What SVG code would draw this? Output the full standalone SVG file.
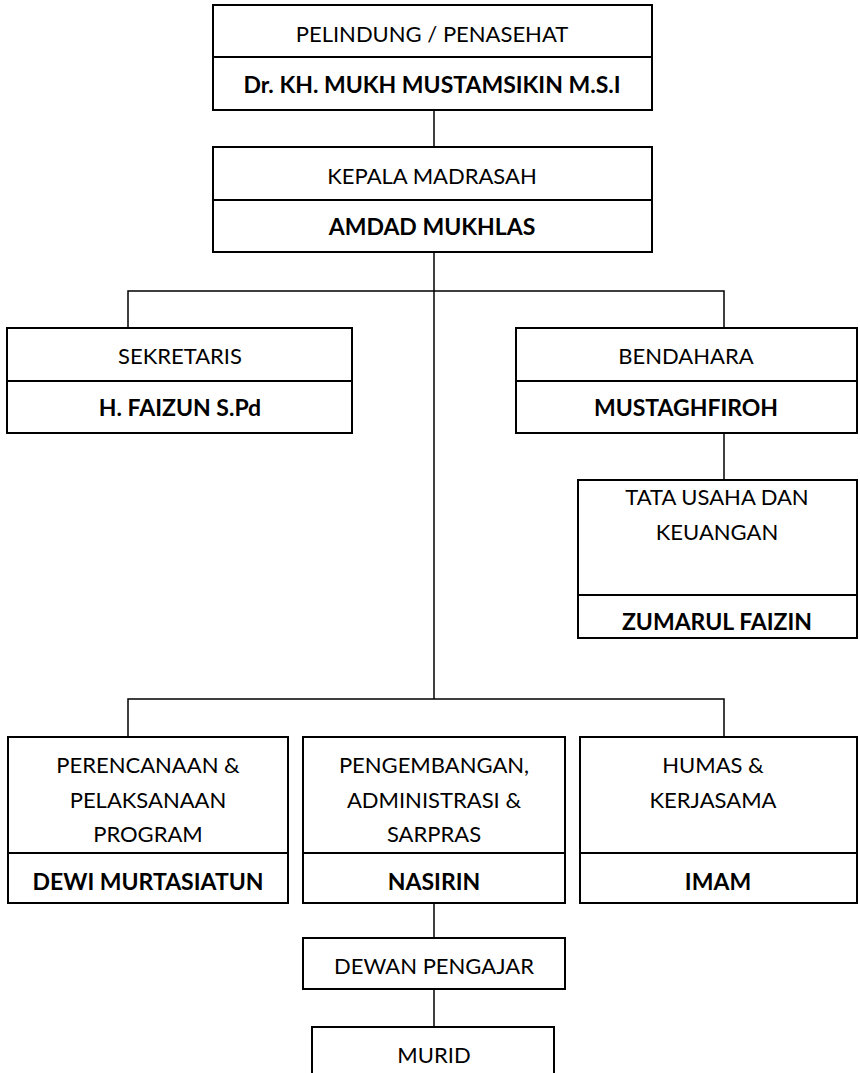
<svg xmlns="http://www.w3.org/2000/svg" width="860" height="1073" viewBox="0 0 860 1073">
<style>
.box{fill:#fff;stroke:#000;stroke-width:2}
.div{stroke:#000;stroke-width:2}
.con{stroke:#000;stroke-width:1.5;fill:none}
text{font-family:Lato,"Liberation Sans",sans-serif;font-size:22px;fill:#000;text-anchor:middle}
.b{font-weight:bold;font-size:23px}
</style>
<rect width="860" height="1073" fill="#fff"/>
<g id="connectors">
<line class="con" x1="434" y1="110" x2="434" y2="147"/>
<line class="con" x1="434" y1="252" x2="434" y2="699"/>
<polyline class="con" points="128,328 128,291 724,291 724,328"/>
<line class="con" x1="724" y1="433" x2="724" y2="480"/>
<polyline class="con" points="128,737 128,699 724,699 724,737"/>
<line class="con" x1="434" y1="903" x2="434" y2="938"/>
<line class="con" x1="434" y1="989" x2="434" y2="1027"/>
</g>
<g id="pelindung">
<rect class="box" x="213" y="5" width="439" height="105"/>
<line class="div" x1="213" y1="57" x2="652" y2="57"/>
<text x="432" y="42">PELINDUNG / PENASEHAT</text>
<text class="b" x="432" y="93">Dr. KH. MUKH MUSTAMSIKIN M.S.I</text>
</g>
<g id="kepala">
<rect class="box" x="213" y="147" width="439" height="105"/>
<line class="div" x1="213" y1="200" x2="652" y2="200"/>
<text x="432" y="184">KEPALA MADRASAH</text>
<text class="b" x="432" y="235">AMDAD MUKHLAS</text>
</g>
<g id="sekretaris">
<rect class="box" x="7" y="328" width="345" height="105"/>
<line class="div" x1="7" y1="381" x2="352" y2="381"/>
<text x="180" y="364">SEKRETARIS</text>
<text class="b" x="180" y="416">H. FAIZUN S.Pd</text>
</g>
<g id="bendahara">
<rect class="box" x="516" y="328" width="341" height="105"/>
<line class="div" x1="516" y1="381" x2="857" y2="381"/>
<text x="686" y="364">BENDAHARA</text>
<text class="b" x="686" y="416">MUSTAGHFIROH</text>
</g>
<g id="tatausaha">
<rect class="box" x="578" y="480" width="279" height="158"/>
<line class="div" x1="578" y1="595" x2="857" y2="595"/>
<text x="717" y="505">TATA USAHA DAN</text>
<text x="717" y="540">KEUANGAN</text>
<text class="b" x="717" y="630">ZUMARUL FAIZIN</text>
</g>
<g id="perencanaan">
<rect class="box" x="8" y="737" width="280" height="166"/>
<line class="div" x1="8" y1="853" x2="288" y2="853"/>
<text x="148" y="773">PERENCANAAN &amp;</text>
<text x="148" y="808">PELAKSANAAN</text>
<text x="148" y="842">PROGRAM</text>
<text class="b" x="148" y="890">DEWI MURTASIATUN</text>
</g>
<g id="pengembangan">
<rect class="box" x="303" y="737" width="262" height="166"/>
<line class="div" x1="303" y1="853" x2="565" y2="853"/>
<text x="434" y="773">PENGEMBANGAN,</text>
<text x="434" y="808">ADMINISTRASI &amp;</text>
<text x="434" y="842">SARPRAS</text>
<text class="b" x="434" y="890">NASIRIN</text>
</g>
<g id="humas">
<rect class="box" x="580" y="737" width="277" height="166"/>
<line class="div" x1="580" y1="853" x2="857" y2="853"/>
<text x="713" y="773">HUMAS &amp;</text>
<text x="713" y="808">KERJASAMA</text>
<text class="b" x="718" y="890">IMAM</text>
</g>
<g id="dewan">
<rect class="box" x="303" y="938" width="262" height="51"/>
<text x="434" y="974">DEWAN PENGAJAR</text>
</g>
<g id="murid">
<rect class="box" x="312" y="1027" width="242" height="60"/>
<text x="434" y="1063">MURID</text>
</g>
</svg>
